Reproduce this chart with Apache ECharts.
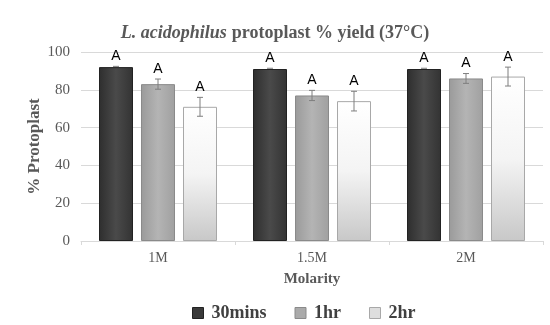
<!DOCTYPE html>
<html><head><meta charset="utf-8">
<script src="https://cdn.jsdelivr.net/npm/echarts@6/dist/echarts.min.js"></script>
<style>html,body{margin:0;padding:0;background:#fff}#c{width:550px;height:325px}</style>
</head><body><div id="c"></div>
<script>
var categories = ['1M', '1.5M', '2M'];
var seriesNames = ['30mins', '1hr', '2hr'];
var mins30 = [92, 91, 91];
var hr1 = [83, 77, 86];
var hr2 = [71, 74, 87];
var err30 = [0.4, 0.4, 0.4];
var err1 = [2.7, 2.7, 2.6];
var err2 = [5, 5.2, 5];
var sigLabels = [['A','A','A'],['A','A','A'],['A','A','A']];
var yTicks = [0, 20, 40, 60, 80, 100];

var values = [mins30, hr1, hr2];
var errs = [err30, err1, err2];
var BW = 34, GAP = 8;

var fills = [
  {type:'linear',x:0,y:0,x2:1,y2:0,colorStops:[{offset:0,color:'#2e2e2e'},{offset:0.5,color:'#4a4a4a'},{offset:1,color:'#333'}]},
  {type:'linear',x:0,y:0,x2:1,y2:0,colorStops:[{offset:0,color:'#9a9a9a'},{offset:0.5,color:'#b4b4b4'},{offset:1,color:'#a0a0a0'}]},
  {type:'linear',x:0,y:0,x2:0,y2:1,colorStops:[{offset:0,color:'#ffffff'},{offset:0.5,color:'#f4f4f4'},{offset:1,color:'#c8c8c8'}]}
];
var borders = ['#222', '#8a8a8a', '#a8a8a8'];
var legendColors = ['#3a3a3a', '#aaaaaa', '#dedede'];

var series = [];
seriesNames.forEach(function(n, i){
  series.push({
    name: n, type: 'bar', data: values[i], barWidth: BW, barGap: (GAP/BW*100)+'%',
    itemStyle: {color: fills[i], borderColor: borders[i], borderWidth: 1},
    emphasis: {disabled: true}
  });
});
var errData = [];
for (var s = 0; s < 3; s++) for (var c = 0; c < 3; c++) errData.push([c, values[s][c], errs[s][c], s, sigLabels[s][c]]);
series.push({
  type: 'custom', silent: true, z: 10,
  data: errData,
  renderItem: function(params, api){
    var c = api.value(0), v = api.value(1), e = api.value(2), s = api.value(3);
    var off = (s - 1) * (BW + GAP);
    var hi = api.coord([c, v + e]), lo = api.coord([c, v - e]);
    var x = hi[0] + off;
    var st = {stroke: '#7f7f7f', lineWidth: 1};
    var ch = [];
    if (e > 0.5) {
      ch.push({type:'line', shape:{x1:x, y1:hi[1], x2:x, y2:lo[1]}, style: st});
      ch.push({type:'line', shape:{x1:x-3, y1:hi[1], x2:x+3, y2:hi[1]}, style: st});
      ch.push({type:'line', shape:{x1:x-3, y1:lo[1], x2:x+3, y2:lo[1]}, style: st});
    } else {
      ch.push({type:'line', shape:{x1:x-3, y1:hi[1], x2:x+3, y2:hi[1]}, style: st});
    }
    ch.push({type:'text', style:{text: errData[params.dataIndex][4], x: x, y: hi[1] - 3, textAlign:'center', textVerticalAlign:'bottom', fill:'#000', font:'14px "Liberation Sans", Arial, sans-serif'}});
    return {type:'group', children: ch};
  }
});

var chart = echarts.init(document.getElementById('c'));
chart.setOption({
  animation: false,
  title: {
    text: '{i|L. acidophilus} {b|protoplast % yield (37°C)}',
    left: 'center', top: 19,
    textStyle: {rich: {
      i: {fontFamily: '"Liberation Serif", "Times New Roman", serif', fontStyle: 'italic', fontWeight: 'bold', fontSize: 18, color: '#595959'},
      b: {fontFamily: '"Liberation Serif", "Times New Roman", serif', fontWeight: 'bold', fontSize: 18, color: '#595959'}
    }}
  },
  legend: {
    top: 299, left: 187, itemWidth: 11, itemHeight: 11, itemGap: 28, icon: 'rect',
    data: seriesNames.map(function(n, i){ return {name: n, itemStyle: {color: legendColors[i], borderColor: borders[i], borderWidth: 1}}; }),
    textStyle: {fontFamily: '"Liberation Serif", serif', fontWeight: 'bold', fontSize: 18, color: '#404040', padding: [0, 0, 0, 3]}
  },
  grid: {left: 81, right: 7, top: 52, bottom: 84},
  xAxis: {
    type: 'category', data: categories,
    name: 'Molarity', nameLocation: 'middle', nameGap: 31,
    nameTextStyle: {fontFamily: '"Liberation Serif", serif', fontWeight: 'bold', fontSize: 15, color: '#595959'},
    axisLine: {lineStyle: {color: '#d9d9d9'}},
    axisTick: {show: true, length: 4, lineStyle: {color: '#d9d9d9'}},
    axisLabel: {fontFamily: '"Liberation Serif", serif', fontSize: 14, color: '#595959', margin: 10}
  },
  yAxis: {
    type: 'value', min: 0, max: 100, interval: 20,
    name: '% Protoplast', nameLocation: 'middle', nameGap: 38, nameMoveOverlap: false,
    nameTextStyle: {fontFamily: '"Liberation Serif", serif', fontWeight: 'bold', fontSize: 17, color: '#595959'},
    axisLine: {show: false}, axisTick: {show: false},
    splitLine: {lineStyle: {color: '#d9d9d9'}},
    axisLabel: {fontFamily: '"Liberation Serif", serif', fontSize: 15, color: '#595959', margin: 11,
      formatter: function(v){ return yTicks.indexOf(v) >= 0 ? String(v) : ''; }}
  },
  series: series
});
</script></body></html>
